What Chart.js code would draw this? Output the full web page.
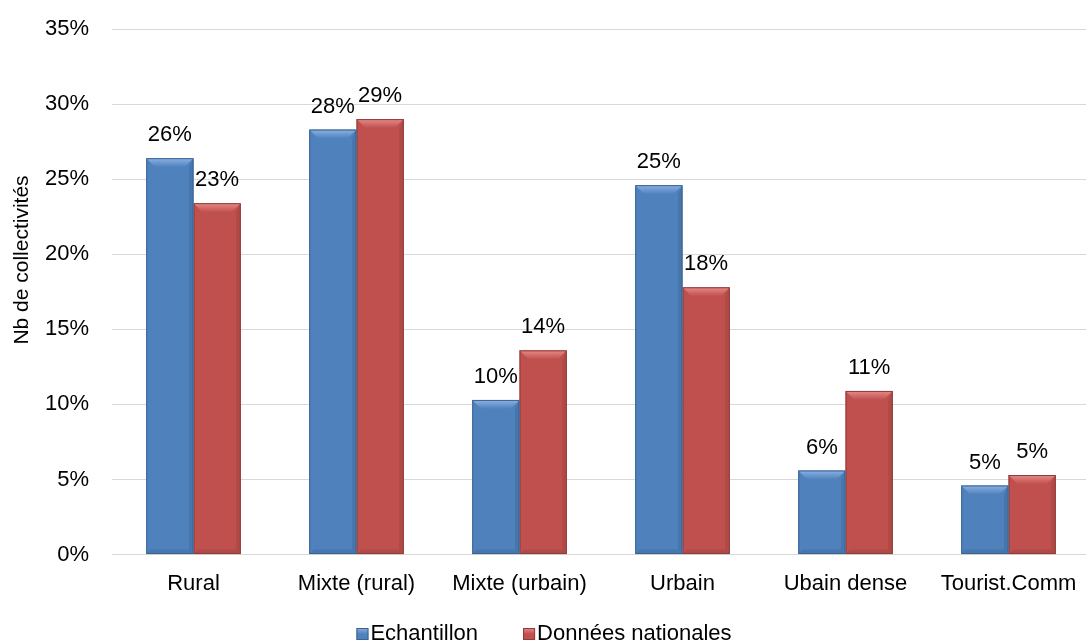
<!DOCTYPE html>
<html><head><meta charset="utf-8">
<script src="https://cdn.jsdelivr.net/npm/chart.js@4/dist/chart.umd.min.js"></script>
<style>
html,body{margin:0;padding:0;background:#fff;overflow:hidden}
#wrap{width:1086px;height:644px;overflow:hidden;position:relative}
#box{width:1092px;height:644px;position:relative}
</style></head><body>
<div id="wrap"><div id="box"><canvas id="c"></canvas></div></div>
<script>
const categories = ['Rural', 'Mixte (rural)', 'Mixte (urbain)', 'Urbain', 'Ubain dense', 'Tourist.Comm'];
const echantillon = [26.4, 28.3, 10.3, 24.6, 5.6, 4.6];
const nationales = [23.4, 29.0, 13.6, 17.8, 10.9, 5.3];
const seriesNames = ['Echantillon', 'Données nationales'];
const yMin = 0, yMax = 35, yStep = 5;
const yTitle = 'Nb de collectivités';

const FONT = '"Liberation Sans", Arial, sans-serif';
const FS = 22;
const palette = [
  {body:'#4F81BD', top:'#8db2e2', edge:'#3b6390', dark:'#3e6897'},
  {body:'#C0504D', top:'#e68b88', edge:'#8f3b39', dark:'#9c4240'}
];

const bevelPlugin = {
  id: 'bevel',
  afterDatasetDraw(chart, args) {
    const ctx = chart.ctx;
    const p = palette[args.index];
    args.meta.data.forEach(el => {
      const {x, y, base, width} = el.getProps(['x','y','base','width'], true);
      const l = x - width/2, r = x + width/2, t = y, b = base;
      const bv = Math.min(9, (b - t)/2);
      ctx.save();
      const g = ctx.createLinearGradient(0, t, 0, t + bv);
      g.addColorStop(0, p.top); g.addColorStop(1, p.body);
      ctx.fillStyle = g;
      ctx.beginPath();
      ctx.moveTo(l, t); ctx.lineTo(r, t); ctx.lineTo(r - bv, t + bv); ctx.lineTo(l + bv, t + bv); ctx.closePath();
      ctx.fill();
      ctx.fillStyle = p.dark;
      ctx.globalAlpha = 0.45;
      const s = bv * 0.5;
      ctx.beginPath();
      ctx.moveTo(r, t); ctx.lineTo(r, b); ctx.lineTo(r - s, b - s); ctx.lineTo(r - s, t + bv); ctx.closePath();
      ctx.fill();
      ctx.beginPath();
      ctx.moveTo(l, b); ctx.lineTo(r, b); ctx.lineTo(r - s, b - s); ctx.lineTo(l + s, b - s); ctx.closePath();
      ctx.fill();
      ctx.globalAlpha = 1;
      ctx.strokeStyle = p.edge; ctx.lineWidth = 1;
      ctx.strokeRect(l + 0.5, t + 0.5, width - 1, b - t - 1);
      ctx.restore();
    });
  }
};

const labelPlugin = {
  id: 'vlabels',
  afterDatasetsDraw(chart) {
    const ctx = chart.ctx;
    ctx.save();
    ctx.font = FS + 'px ' + FONT;
    ctx.fillStyle = '#000';
    ctx.textAlign = 'center';
    ctx.textBaseline = 'middle';
    chart.data.datasets.forEach((ds, i) => {
      chart.getDatasetMeta(i).data.forEach((el, j) => {
        ctx.fillText(Math.round(ds.data[j]) + '%', el.x, el.y - 23);
      });
    });
    ctx.restore();
    // y axis title
    ctx.save();
    ctx.translate(22, 260);
    ctx.rotate(-Math.PI/2);
    ctx.font = '21px ' + FONT;
    ctx.fillStyle = '#000';
    ctx.textAlign = 'center';
    ctx.textBaseline = 'middle';
    ctx.fillText(yTitle, 0, 0);
    ctx.restore();
    // legend
    ctx.save();
    ctx.font = FS + 'px ' + FONT;
    ctx.textBaseline = 'middle';
    ctx.textAlign = 'left';
    const box = 12, gap = 2, sep = 45, ly = 634;
    const widths = chart.data.datasets.map(d => ctx.measureText(d.label).width);
    const total = widths.reduce((a, w) => a + box + gap + w, 0) + sep * (widths.length - 1);
    let cx = 544 - total / 2;
    chart.data.datasets.forEach((d, i) => {
      const p = palette[i];
      const g = ctx.createLinearGradient(0, ly - box/2, 0, ly + box/2);
      g.addColorStop(0, p.top); g.addColorStop(0.5, p.body); g.addColorStop(1, p.body);
      ctx.fillStyle = g;
      ctx.fillRect(cx, ly - box/2, box, box);
      ctx.strokeStyle = p.edge; ctx.lineWidth = 1;
      ctx.strokeRect(cx + 0.5, ly - box/2 + 0.5, box - 1, box - 1);
      ctx.fillStyle = '#000';
      ctx.fillText(d.label, cx + box + gap, ly);
      cx += box + gap + widths[i] + sep;
    });
    ctx.restore();
  }
};

new Chart(document.getElementById('c'), {
  type: 'bar',
  data: {
    labels: categories,
    datasets: [
      {label: seriesNames[0], data: echantillon, backgroundColor: palette[0].body, borderWidth: 0},
      {label: seriesNames[1], data: nationales, backgroundColor: palette[1].body, borderWidth: 0}
    ]
  },
  options: {
    responsive: true,
    maintainAspectRatio: false,
    animation: false,
    devicePixelRatio: 1,
    layout: {padding: {top: 29, right: 2, bottom: 39, left: 0}},
    datasets: {bar: {categoryPercentage: 0.58, barPercentage: 1.0}},
    plugins: {
      legend: {display: false},
      tooltip: {enabled: false}
    },
    scales: {
      x: {
        grid: {display: false},
        border: {display: false},
        ticks: {font: {family: FONT, size: FS}, color: '#000', maxRotation: 0, autoSkip: false, padding: 8}
      },
      y: {
        min: yMin, max: yMax,
        afterFit(scale) { scale.width = 112; scale.paddingTop = 0; scale.paddingBottom = 0; },
        border: {display: false},
        grid: {color: '#d9d9d9', lineWidth: 1, drawTicks: false},
        ticks: {stepSize: yStep, font: {family: FONT, size: FS}, color: '#000', padding: 23,
          callback: v => v + '%'}
      }
    }
  },
  plugins: [bevelPlugin, labelPlugin]
});
</script>
</body></html>
